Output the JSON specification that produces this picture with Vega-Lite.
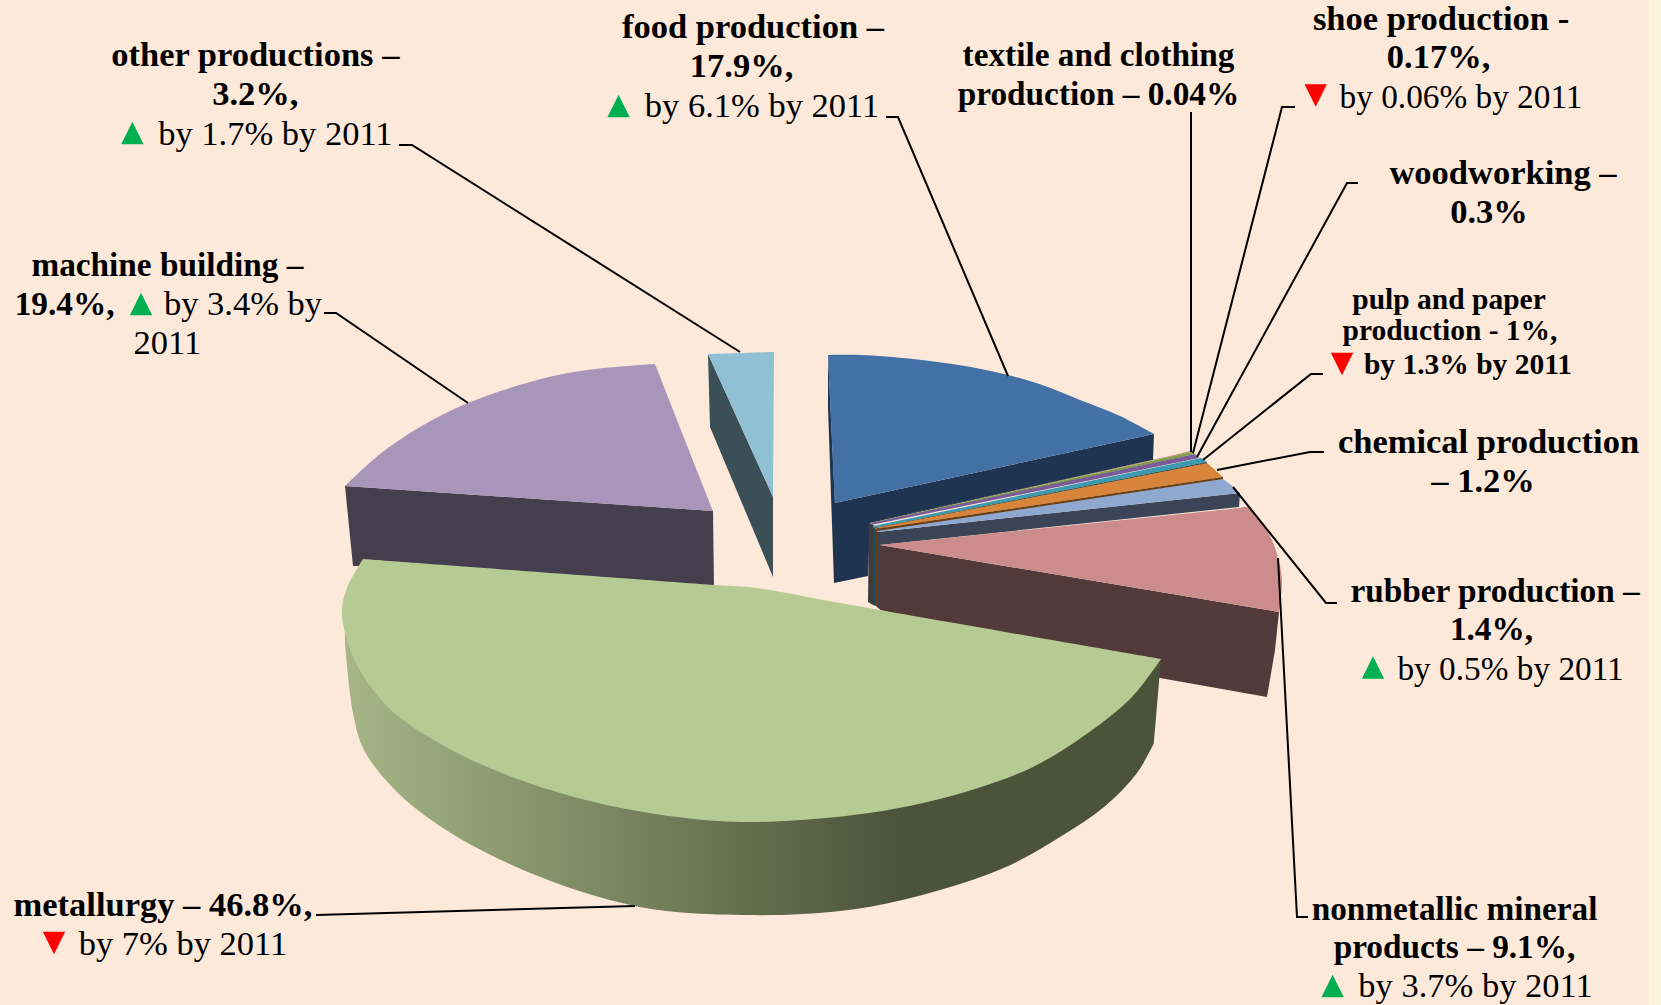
{"$schema":"https://vega.github.io/schema/vega-lite/v6.json","width":1661,"height":1005,"autosize":{"type":"fit","contains":"padding"},"padding":0,"background":"#FDE9D9","view":{"stroke":null},"config":{"view":{"stroke":null}},
"datasets":{
"shapes":[
{"part":"strip","k":"page","seq":0,"x":1649,"y":0},{"part":"strip","k":"page","seq":1,"x":1661,"y":0},{"part":"strip","k":"page","seq":2,"x":1661,"y":1005},{"part":"strip","k":"page","seq":3,"x":1649,"y":1005},
{"part":"machine side","k":"machineSide","seq":0,"x":345,"y":486},{"part":"machine side","k":"machineSide","seq":1,"x":713,"y":511},{"part":"machine side","k":"machineSide","seq":2,"x":714,"y":590},{"part":"machine side","k":"machineSide","seq":3,"x":363,"y":566},{"part":"machine side","k":"machineSide","seq":4,"x":353,"y":566},
{"part":"other side","k":"otherSide","seq":0,"x":708,"y":354},{"part":"other side","k":"otherSide","seq":1,"x":773,"y":497},{"part":"other side","k":"otherSide","seq":2,"x":773,"y":577},{"part":"other side","k":"otherSide","seq":3,"x":710,"y":427},
{"part":"other top","k":"otherTop","seq":0,"x":708,"y":354},{"part":"other top","k":"otherTop","seq":1,"x":774,"y":352},{"part":"other top","k":"otherTop","seq":2,"x":773,"y":497},
{"part":"food side","k":"foodSide","seq":0,"x":828,"y":355},{"part":"food side","k":"foodSide","seq":1,"x":835,"y":503},{"part":"food side","k":"foodSide","seq":2,"x":1154,"y":434},{"part":"food side","k":"foodSide","seq":3,"x":1153,"y":460},{"part":"food side","k":"foodSide","seq":4,"x":870,"y":523},{"part":"food side","k":"foodSide","seq":5,"x":868,"y":576},{"part":"food side","k":"foodSide","seq":6,"x":834,"y":583},{"part":"food side","k":"foodSide","seq":7,"x":828,"y":407},
{"part":"pile a","k":"pileA","seq":0,"x":869,"y":523},{"part":"pile a","k":"pileA","seq":1,"x":873,"y":525},{"part":"pile a","k":"pileA","seq":2,"x":873,"y":605},{"part":"pile a","k":"pileA","seq":3,"x":868,"y":602},
{"part":"pile b","k":"pileB","seq":0,"x":873,"y":525},{"part":"pile b","k":"pileB","seq":1,"x":876,"y":527},{"part":"pile b","k":"pileB","seq":2,"x":876,"y":606},{"part":"pile b","k":"pileB","seq":3,"x":873,"y":605},
{"part":"pile c","k":"pileC","seq":0,"x":876,"y":527},{"part":"pile c","k":"pileC","seq":1,"x":878,"y":530},{"part":"pile c","k":"pileC","seq":2,"x":878,"y":608},{"part":"pile c","k":"pileC","seq":3,"x":876,"y":606},
{"part":"textile top","k":"textileTop","seq":0,"x":870,"y":522},{"part":"textile top","k":"textileTop","seq":1,"x":1170,"y":456},{"part":"textile top","k":"textileTop","seq":2,"x":1190,"y":451},{"part":"textile top","k":"textileTop","seq":3,"x":1192,"y":452},
{"part":"shoe top","k":"shoeTop","seq":0,"x":870,"y":523},{"part":"shoe top","k":"shoeTop","seq":1,"x":1192,"y":452},{"part":"shoe top","k":"shoeTop","seq":2,"x":1195,"y":454},{"part":"shoe top","k":"shoeTop","seq":3,"x":871,"y":524},
{"part":"wood top","k":"woodTop","seq":0,"x":871,"y":523},{"part":"wood top","k":"woodTop","seq":1,"x":1195,"y":454},{"part":"wood top","k":"woodTop","seq":2,"x":1199,"y":458},{"part":"wood top","k":"woodTop","seq":3,"x":871,"y":525},
{"part":"pulp top","k":"pulpTop","seq":0,"x":873,"y":526},{"part":"pulp top","k":"pulpTop","seq":1,"x":1201,"y":458},{"part":"pulp top","k":"pulpTop","seq":2,"x":1207,"y":462},{"part":"pulp top","k":"pulpTop","seq":3,"x":873,"y":528},
{"part":"pulp side","k":"pileB","seq":0,"x":873,"y":528},{"part":"pulp side","k":"pileB","seq":1,"x":1207,"y":462},{"part":"pulp side","k":"pileB","seq":2,"x":1207,"y":464},{"part":"pulp side","k":"pileB","seq":3,"x":873,"y":530},
{"part":"chemical top","k":"chemTop","seq":0,"x":875,"y":528},{"part":"chemical top","k":"chemTop","seq":1,"x":1207,"y":463},{"part":"chemical top","k":"chemTop","seq":2,"x":1215,"y":470},{"part":"chemical top","k":"chemTop","seq":3,"x":1223,"y":477},{"part":"chemical top","k":"chemTop","seq":4,"x":875,"y":529},
{"part":"chemical side","k":"pileC","seq":0,"x":875,"y":529},{"part":"chemical side","k":"pileC","seq":1,"x":1223,"y":477},{"part":"chemical side","k":"pileC","seq":2,"x":1223,"y":480},{"part":"chemical side","k":"pileC","seq":3,"x":875,"y":532},
{"part":"rubber side","k":"rubberSide","seq":0,"x":877,"y":532},{"part":"rubber side","k":"rubberSide","seq":1,"x":1240,"y":493},{"part":"rubber side","k":"rubberSide","seq":2,"x":1239,"y":507},{"part":"rubber side","k":"rubberSide","seq":3,"x":880,"y":545},{"part":"rubber side","k":"rubberSide","seq":4,"x":881,"y":610},{"part":"rubber side","k":"rubberSide","seq":5,"x":878,"y":608},
{"part":"rubber top","k":"rubberTop","seq":0,"x":877,"y":531},{"part":"rubber top","k":"rubberTop","seq":1,"x":1223,"y":479},{"part":"rubber top","k":"rubberTop","seq":2,"x":1231,"y":485},{"part":"rubber top","k":"rubberTop","seq":3,"x":1240,"y":493},{"part":"rubber top","k":"rubberTop","seq":4,"x":877,"y":532},
{"part":"mineral side","k":"mineralSide","seq":0,"x":880,"y":545},{"part":"mineral side","k":"mineralSide","seq":1,"x":1279,"y":612},{"part":"mineral side","k":"mineralSide","seq":2,"x":1275,"y":650},{"part":"mineral side","k":"mineralSide","seq":3,"x":1267,"y":697},{"part":"mineral side","k":"mineralSide","seq":4,"x":1160,"y":678},{"part":"mineral side","k":"mineralSide","seq":5,"x":880,"y":610}
],
"curved":[
{"part":"machine top","k":"machineTop","seq":0,"x":713,"y":511},{"part":"machine top","k":"machineTop","seq":1,"x":713,"y":511},{"part":"machine top","k":"machineTop","seq":2,"x":655,"y":364},{"part":"machine top","k":"machineTop","seq":3,"x":655,"y":364},{"part":"machine top","k":"machineTop","seq":4,"x":587,"y":370},{"part":"machine top","k":"machineTop","seq":5,"x":537,"y":380},{"part":"machine top","k":"machineTop","seq":6,"x":468,"y":403},{"part":"machine top","k":"machineTop","seq":7,"x":420,"y":427},{"part":"machine top","k":"machineTop","seq":8,"x":380,"y":454},{"part":"machine top","k":"machineTop","seq":9,"x":345,"y":486},{"part":"machine top","k":"machineTop","seq":10,"x":345,"y":486},
{"part":"food top","k":"foodTop","seq":0,"x":835,"y":503},{"part":"food top","k":"foodTop","seq":1,"x":835,"y":503},{"part":"food top","k":"foodTop","seq":2,"x":828,"y":355},{"part":"food top","k":"foodTop","seq":3,"x":828,"y":355},{"part":"food top","k":"foodTop","seq":4,"x":860,"y":355},{"part":"food top","k":"foodTop","seq":5,"x":913,"y":359},{"part":"food top","k":"foodTop","seq":6,"x":965,"y":366},{"part":"food top","k":"foodTop","seq":7,"x":1008,"y":375},{"part":"food top","k":"foodTop","seq":8,"x":1045,"y":386},{"part":"food top","k":"foodTop","seq":9,"x":1080,"y":400},{"part":"food top","k":"foodTop","seq":10,"x":1120,"y":416},{"part":"food top","k":"foodTop","seq":11,"x":1154,"y":434},{"part":"food top","k":"foodTop","seq":12,"x":1154,"y":434},
{"part":"mineral top","k":"mineralTop","seq":0,"x":880,"y":545},{"part":"mineral top","k":"mineralTop","seq":1,"x":880,"y":545},{"part":"mineral top","k":"mineralTop","seq":2,"x":1240,"y":508},{"part":"mineral top","k":"mineralTop","seq":3,"x":1240,"y":508},{"part":"mineral top","k":"mineralTop","seq":4,"x":1247,"y":507},{"part":"mineral top","k":"mineralTop","seq":5,"x":1260,"y":520},{"part":"mineral top","k":"mineralTop","seq":6,"x":1272,"y":540},{"part":"mineral top","k":"mineralTop","seq":7,"x":1278,"y":558},{"part":"mineral top","k":"mineralTop","seq":8,"x":1282,"y":580},{"part":"mineral top","k":"mineralTop","seq":9,"x":1279,"y":612},{"part":"mineral top","k":"mineralTop","seq":10,"x":1279,"y":612}
],
"metalSide":[
{"seq":0,"x":345,"y":620},{"seq":1,"x":345,"y":620},{"seq":2,"x":1161,"y":659},{"seq":3,"x":1161,"y":659},{"seq":4,"x":1154,"y":743},{"seq":5,"x":1154,"y":743},{"seq":6,"x":1137,"y":773},{"seq":7,"x":1104,"y":807},{"seq":8,"x":1060,"y":837},{"seq":9,"x":1006,"y":867},{"seq":10,"x":940,"y":890},{"seq":11,"x":869,"y":907},{"seq":12,"x":803,"y":914},{"seq":13,"x":742,"y":915},{"seq":14,"x":677,"y":912},{"seq":15,"x":635,"y":906},{"seq":16,"x":567,"y":887},{"seq":17,"x":501,"y":860},{"seq":18,"x":446,"y":830},{"seq":19,"x":397,"y":792},{"seq":20,"x":364,"y":750},{"seq":21,"x":353,"y":713},{"seq":22,"x":345,"y":643},{"seq":23,"x":345,"y":643}
],
"metalTop":[
{"seq":0,"x":363,"y":559},{"seq":1,"x":363,"y":559},{"seq":2,"x":714,"y":585},{"seq":3,"x":757,"y":588},{"seq":4,"x":840,"y":603},{"seq":5,"x":1161,"y":659},{"seq":6,"x":1161,"y":659},{"seq":7,"x":1132,"y":697},{"seq":8,"x":1088,"y":733},{"seq":9,"x":1033,"y":767},{"seq":10,"x":978,"y":788},{"seq":11,"x":923,"y":803},{"seq":12,"x":869,"y":813},{"seq":13,"x":814,"y":819},{"seq":14,"x":742,"y":822},{"seq":15,"x":677,"y":817},{"seq":16,"x":594,"y":802},{"seq":17,"x":512,"y":777},{"seq":18,"x":446,"y":747},{"seq":19,"x":391,"y":710},{"seq":20,"x":358,"y":667},{"seq":21,"x":345,"y":633},{"seq":22,"x":342,"y":610},{"seq":23,"x":347,"y":588},{"seq":24,"x":363,"y":559},{"seq":25,"x":363,"y":559}
],
"leaders":[
{"name":"other","seq":0,"x":399,"y":145},{"name":"other","seq":1,"x":412,"y":145},{"name":"other","seq":2,"x":740,"y":352},
{"name":"food","seq":0,"x":886,"y":117},{"name":"food","seq":1,"x":898,"y":117},{"name":"food","seq":2,"x":1008,"y":376},
{"name":"machine","seq":0,"x":324,"y":313},{"name":"machine","seq":1,"x":336,"y":313},{"name":"machine","seq":2,"x":468,"y":403},
{"name":"metallurgy","seq":0,"x":316,"y":915},{"name":"metallurgy","seq":1,"x":635,"y":906},
{"name":"textile","seq":0,"x":1191,"y":112},{"name":"textile","seq":1,"x":1191,"y":452},
{"name":"shoe","seq":0,"x":1295,"y":107},{"name":"shoe","seq":1,"x":1282,"y":107},{"name":"shoe","seq":2,"x":1193,"y":453},
{"name":"wood","seq":0,"x":1358,"y":183},{"name":"wood","seq":1,"x":1347,"y":183},{"name":"wood","seq":2,"x":1197,"y":457},
{"name":"pulp","seq":0,"x":1323,"y":374},{"name":"pulp","seq":1,"x":1311,"y":374},{"name":"pulp","seq":2,"x":1203,"y":460},
{"name":"chemical","seq":0,"x":1324,"y":452},{"name":"chemical","seq":1,"x":1310,"y":452},{"name":"chemical","seq":2,"x":1217,"y":470},
{"name":"rubber","seq":0,"x":1337,"y":603},{"name":"rubber","seq":1,"x":1326,"y":603},{"name":"rubber","seq":2,"x":1233,"y":487},
{"name":"mineral","seq":0,"x":1308,"y":917},{"name":"mineral","seq":1,"x":1297,"y":917},{"name":"mineral","seq":2,"x":1278,"y":558}
],
"labels":[
{"t":"other productions –","x":255.3,"y":56,"r":"b"},{"t":"3.2%,","x":255.3,"y":95,"r":"b"},{"t":"by 1.7% by 2011","x":275.4,"y":134.5,"r":"n"},
{"t":"food production –","x":753,"y":27.5,"r":"b"},{"t":"17.9%,","x":741.5,"y":66.7,"r":"b"},{"t":"by 6.1% by 2011","x":762,"y":107,"r":"n"},
{"t":"machine building –","x":167.4,"y":266,"r":"c"},{"t":"19.4%,","x":64.6,"y":305,"r":"c"},{"t":"by 3.4% by","x":243,"y":305,"r":"n"},{"t":"2011","x":167.4,"y":344,"r":"n"},
{"t":"textile and clothing","x":1098.5,"y":56,"r":"c"},{"t":"production – 0.04%","x":1098.5,"y":95,"r":"c"},
{"t":"shoe production -","x":1441,"y":20,"r":"b"},{"t":"0.17%,","x":1438.5,"y":58,"r":"b"},{"t":"by 0.06% by 2011","x":1461,"y":97.5,"r":"m"},
{"t":"woodworking –","x":1503,"y":173.7,"r":"b"},{"t":"0.3%","x":1489,"y":213,"r":"b"},
{"t":"pulp and paper","x":1449,"y":299.5,"r":"s"},{"t":"production - 1%,","x":1450,"y":331,"r":"s"},{"t":"by 1.3% by 2011","x":1468,"y":365,"r":"s"},
{"t":"chemical production","x":1488.5,"y":443,"r":"b"},{"t":"– 1.2%","x":1483,"y":482,"r":"b"},
{"t":"rubber production –","x":1495,"y":592,"r":"c"},{"t":"1.4%,","x":1491.5,"y":630,"r":"c"},{"t":"by 0.5% by 2011","x":1510.6,"y":669.5,"r":"m"},
{"t":"nonmetallic mineral","x":1454.5,"y":910,"r":"c"},{"t":"products – 9.1%,","x":1454.5,"y":948,"r":"c"},{"t":"by 3.7% by 2011","x":1475.6,"y":987,"r":"n"},
{"t":"metallurgy – 46.8%,","x":163,"y":905.7,"r":"b"},{"t":"by 7% by 2011","x":183,"y":945,"r":"n"}
],
"arrows":[
{"name":"other","dir":"up","x":132.4,"y":133},{"name":"food","dir":"up","x":618.6,"y":106},{"name":"machine","dir":"up","x":141,"y":304},{"name":"shoe","dir":"down","x":1315.7,"y":95.5},{"name":"pulp","dir":"down","x":1342,"y":364},{"name":"rubber","dir":"up","x":1373,"y":667.5},{"name":"mineral","dir":"up","x":1332.6,"y":986},{"name":"metallurgy","dir":"down","x":54,"y":943}
]},
"encoding":{"x":{"field":"x","type":"quantitative","axis":null,"scale":{"domain":[0,1661],"nice":false,"zero":false}},"y":{"field":"y","type":"quantitative","axis":null,"scale":{"domain":[1005,0],"nice":false,"zero":false}}},
"layer":[
{"data":{"name":"shapes"},"mark":{"type":"line","strokeWidth":0,"interpolate":"linear"},"encoding":{"order":{"field":"seq","type":"quantitative"},"detail":{"field":"part"},"fill":{"field":"k","type":"nominal","legend":null,"scale":{"domain":["page","machineSide","machineTop","otherSide","otherTop","foodSide","foodTop","pileA","pileB","pileC","textileTop","shoeTop","woodTop","pulpTop","chemTop","rubberSide","rubberTop","mineralSide","mineralTop"],"range":["#FCF3DC","#443E4D","#A796BA","#3B4F56","#90C0D3","#1F3450","#4371A6","#3D3B3C","#1E4D5C","#6B3D10","#C08A7C","#80A040","#7A5A9A","#3B9AB0","#D9843B","#3A4456","#8FA8D0","#523A3A","#CC8C8C"]}}}},
{"data":{"name":"curved"},"mark":{"type":"line","strokeWidth":0,"interpolate":"catmull-rom"},"encoding":{"order":{"field":"seq","type":"quantitative"},"detail":{"field":"part"},"fill":{"field":"k","type":"nominal","legend":null,"scale":{"domain":["page","machineSide","machineTop","otherSide","otherTop","foodSide","foodTop","pileA","pileB","pileC","textileTop","shoeTop","woodTop","pulpTop","chemTop","rubberSide","rubberTop","mineralSide","mineralTop"],"range":["#FCF3DC","#443E4D","#A796BA","#3B4F56","#90C0D3","#1F3450","#4371A6","#3D3B3C","#1E4D5C","#6B3D10","#C08A7C","#80A040","#7A5A9A","#3B9AB0","#D9843B","#3A4456","#8FA8D0","#523A3A","#CC8C8C"]}}}},
{"data":{"name":"metalSide"},"mark":{"type":"line","strokeWidth":0,"interpolate":"catmull-rom","fill":{"gradient":"linear","x1":0,"x2":1,"y1":0,"y2":0,"stops":[{"offset":0,"color":"#A6B687"},{"offset":0.68,"color":"#4B5339"},{"offset":1,"color":"#4B5339"}]}},"encoding":{"order":{"field":"seq","type":"quantitative"}}},
{"data":{"name":"metalTop"},"mark":{"type":"line","strokeWidth":0,"interpolate":"catmull-rom","fill":"#B6CB93"},"encoding":{"order":{"field":"seq","type":"quantitative"}}},
{"data":{"name":"leaders"},"mark":{"type":"line","stroke":"#000000","strokeWidth":2},"encoding":{"order":{"field":"seq","type":"quantitative"},"detail":{"field":"name"}}},
{"data":{"name":"labels"},"transform":[{"filter":"datum.r==='b'"}],"mark":{"type":"text","font":"Liberation Serif","fontWeight":"bold","fontSize":34.5,"align":"center","baseline":"middle","color":"#000000"},"encoding":{"text":{"field":"t"}}},
{"data":{"name":"labels"},"transform":[{"filter":"datum.r==='c'"}],"mark":{"type":"text","font":"Liberation Serif","fontWeight":"bold","fontSize":33.3,"align":"center","baseline":"middle","color":"#000000"},"encoding":{"text":{"field":"t"}}},
{"data":{"name":"labels"},"transform":[{"filter":"datum.r==='n'"}],"mark":{"type":"text","font":"Liberation Serif","fontSize":34.5,"align":"center","baseline":"middle","color":"#000000"},"encoding":{"text":{"field":"t"}}},
{"data":{"name":"labels"},"transform":[{"filter":"datum.r==='m'"}],"mark":{"type":"text","font":"Liberation Serif","fontSize":33.3,"align":"center","baseline":"middle","color":"#000000"},"encoding":{"text":{"field":"t"}}},
{"data":{"name":"labels"},"transform":[{"filter":"datum.r==='s'"}],"mark":{"type":"text","font":"Liberation Serif","fontWeight":"bold","fontSize":29.5,"align":"center","baseline":"middle","color":"#000000"},"encoding":{"text":{"field":"t"}}},
{"data":{"name":"arrows"},"mark":{"type":"point","filled":true,"size":500,"opacity":1,"strokeWidth":0},"encoding":{"shape":{"field":"dir","type":"nominal","legend":null,"scale":{"domain":["up","down"],"range":["M-1,1L1,1L0,-1Z","M-1,-1L1,-1L0,1Z"]}},"color":{"field":"dir","type":"nominal","legend":null,"scale":{"domain":["up","down"],"range":["#00B050","#FF0000"]}}}}
]}
